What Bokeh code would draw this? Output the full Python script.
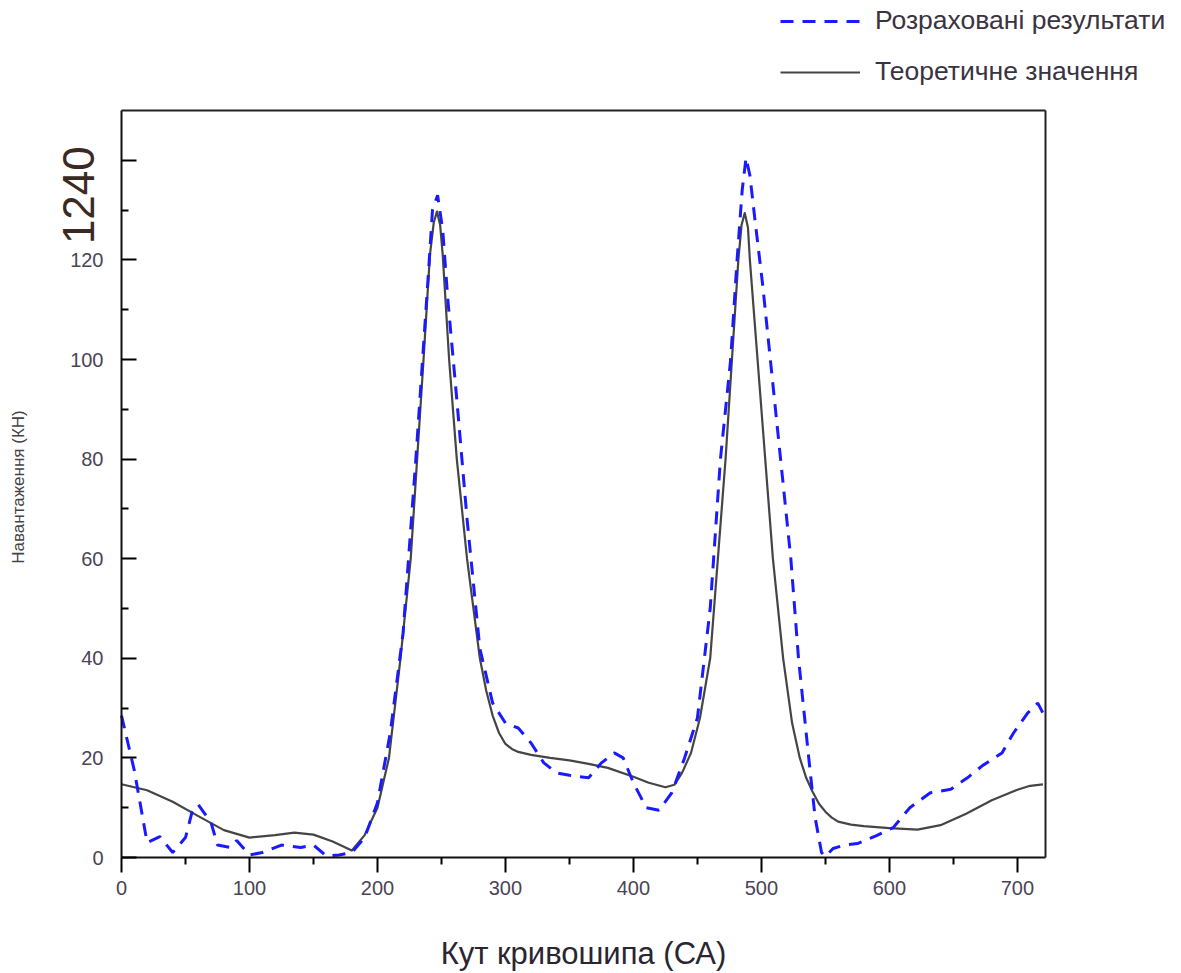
import math
from bokeh.plotting import figure
from bokeh.models import Range1d, FixedTicker, Legend, LegendItem, Label, LinearAxis
from bokeh.embed import file_html
from bokeh.resources import INLINE

# Theoretical values (solid line)
theory_x = [0, 20, 40, 60, 80, 100, 120, 135, 150, 165, 180, 190, 200, 209, 218, 226, 236, 241, 244,
            246.5, 249, 251, 256, 262, 270, 280, 285, 290, 295, 300, 305, 310, 320, 335, 350, 365,
            380, 400, 412, 425, 432, 438, 445, 452, 460, 466, 472, 477, 482, 484.5, 487, 489.5, 491,
            497, 503, 509, 517, 524, 530, 535, 540, 545, 550, 555, 560, 570, 580, 600, 622, 640, 660,
            680, 700, 710, 720]
theory_y = [14.7, 13.5, 11.2, 8.3, 5.5, 4.0, 4.5, 5.0, 4.6, 3.2, 1.4, 4.5, 10.0, 20.0, 40.0, 60.0, 100.0,
            121.0, 127.5, 129.7, 127.0, 121.0, 100.0, 80.0, 60.0, 40.0, 33.5, 28.5, 25.0, 22.8, 21.8,
            21.2, 20.6, 20.0, 19.5, 18.8, 18.0, 16.2, 15.0, 14.1, 14.6, 17.0, 21.0, 28.0, 40.0, 60.0,
            80.0, 100.0, 120.0, 127.0, 129.4, 126.5, 120.0, 100.0, 80.0, 60.0, 40.0, 27.0, 20.0,
            16.0, 13.2, 10.8, 9.2, 8.0, 7.2, 6.6, 6.3, 5.9, 5.6, 6.5, 8.8, 11.5, 13.6, 14.4, 14.7]

# Computed results (dashed line)
calc_x = [0, 10, 20, 30, 40, 50, 55, 60, 70, 75, 85, 90, 100, 110, 125, 140, 150, 160, 170, 180, 190,
          200, 210, 220, 230, 240, 243, 247, 251, 255, 262, 270, 280, 290, 300, 310, 320, 330, 340, 350,
          365, 375, 385, 392, 400, 410, 420, 430, 440, 450, 460, 468, 476, 481, 485, 488, 491, 495,
          501, 507, 515, 523, 529, 537, 542, 547, 550, 556, 565, 575, 590, 603, 616, 632, 648, 661,
          673, 688, 697, 708, 716, 720]
calc_y = [28.5, 17.5, 3.0, 4.2, 1.0, 4.0, 9.0, 10.6, 7.0, 2.5, 2.0, 3.4, 0.5, 1.0, 2.5, 2.0, 2.5, 0.3,
          0.5, 1.0, 4.0, 11.0, 25.0, 45.0, 80.0, 118.0, 130.0, 133.0, 126.0, 112.0, 92.0, 68.0, 42.0,
          31.0, 27.0, 26.0, 23.0, 19.0, 17.0, 16.5, 16.0, 19.0, 21.0, 20.0, 15.0, 10.0, 9.5, 13.0,
          20.0, 28.0, 50.0, 80.0, 100.0, 120.0, 134.0, 140.5, 137.0, 128.0, 115.0, 100.0, 80.0, 60.0,
          40.0, 20.0, 8.0, 1.0, 0.2, 1.8, 2.5, 2.8, 4.4, 6.0, 10.0, 13.0, 13.7, 16.0, 18.5, 21.0,
          25.0, 29.0, 31.0, 29.0]

y_ticks = [0, 20, 40, 60, 80, 100, 120, 140]
x_ticks = [0, 100, 200, 300, 400, 500, 600, 700]
X_MIN, X_MAX = 0, 722
Y_MIN, Y_MAX = 0, 150
label_calc = "Розраховані результати"
label_theory = "Теоретичне значення"
x_title = "Кут кривошипа (СА)"
y_title = "Навантаження (КН)"
stray_label = "1240"

FONT = "Liberation Sans"
TICK_COLOR = "#4a4458"
W, H = 1181, 973
# frame pixel geometry (the drawn box), used to set the view ranges
L_PX, R_PX, T_PX, B_PX = 121, 1045, 110, 857
xs = (R_PX - L_PX) / (X_MAX - X_MIN)
ys = (B_PX - T_PX) / (Y_MAX - Y_MIN)
x_range = Range1d(X_MIN - L_PX / xs, X_MAX + (W - R_PX) / xs)
y_range = Range1d(Y_MIN - (H - B_PX) / ys, Y_MAX + T_PX / ys)

p = figure(width=W, height=H, output_backend="svg", toolbar_location=None,
           x_range=x_range, y_range=y_range, x_axis_location=None, y_axis_location=None,
           min_border=0)
p.grid.visible = False
p.outline_line_color = None
p.background_fill_color = "white"
p.border_fill_color = "white"

tr = p.line(theory_x, theory_y, line_color="#454545", line_width=2.2, line_join="round")
cr = p.line(calc_x, calc_y, line_color="#1a1aff", line_width=3, line_dash="13 9")


def style_common(ax):
    ax.axis_line_width = 2
    ax.axis_line_color = "#111111"
    ax.major_tick_line_width = 2
    ax.minor_tick_line_width = 2
    ax.major_label_text_font = FONT
    ax.major_label_text_font_size = "20px"
    ax.major_label_text_color = TICK_COLOR


xa = LinearAxis(fixed_location=Y_MIN, bounds=(X_MIN, X_MAX),
                ticker=FixedTicker(ticks=x_ticks, minor_ticks=list(range(50, 720, 100))))
style_common(xa)
xa.major_tick_out = 15
xa.major_tick_in = 0
xa.minor_tick_out = 7
xa.minor_tick_in = 0
xa.major_label_standoff = 8
p.add_layout(xa, "below")

ya = LinearAxis(fixed_location=X_MIN, bounds=(Y_MIN, Y_MAX),
                ticker=FixedTicker(ticks=y_ticks, minor_ticks=list(range(10, 150, 20))))
style_common(ya)
ya.major_tick_in = 15
ya.major_tick_out = 0
ya.minor_tick_in = 7
ya.minor_tick_out = 0
ya.major_label_standoff = 18
ya.major_label_overrides = {140: ""}
p.add_layout(ya, "left")

top = LinearAxis(fixed_location=Y_MAX, bounds=(X_MIN, X_MAX), ticker=FixedTicker(ticks=[]),
                 axis_line_width=2, axis_line_color="#222222", major_label_text_alpha=0)
p.add_layout(top, "above")
right = LinearAxis(fixed_location=X_MAX, bounds=(Y_MIN, Y_MAX), ticker=FixedTicker(ticks=[]),
                   axis_line_width=2, axis_line_color="#222222", major_label_text_alpha=0)
p.add_layout(right, "right")

p.add_layout(Label(x=(X_MIN + X_MAX) / 2, y=-19.3, text=x_title, text_font=FONT,
                   text_font_size="31px", text_color="#2a2530", text_align="center",
                   text_baseline="middle"))
p.add_layout(Label(x=-80.5, y=74.4, text=y_title, angle=math.pi / 2, text_font=FONT,
                   text_font_size="17px", text_color="#444444", text_align="center",
                   text_baseline="middle"))
p.add_layout(Label(x=-33.5, y=133, text=stray_label, angle=math.pi / 2, text_font=FONT,
                   text_font_size="44px", text_color="#3a2a22", text_align="center",
                   text_baseline="middle"))

legend = Legend(items=[LegendItem(label=label_calc, renderers=[cr]),
                       LegendItem(label=label_theory, renderers=[tr])],
                location=(780, H - 87), orientation="vertical",
                glyph_width=80, glyph_height=28, label_standoff=15, spacing=20, label_height=28,
                padding=0, margin=0, border_line_alpha=0, background_fill_alpha=0,
                label_text_font=FONT, label_text_font_size="26.5px", label_text_color="#3a3340")
p.add_layout(legend, "center")

open("out.html", "w").write(file_html(p, INLINE))
